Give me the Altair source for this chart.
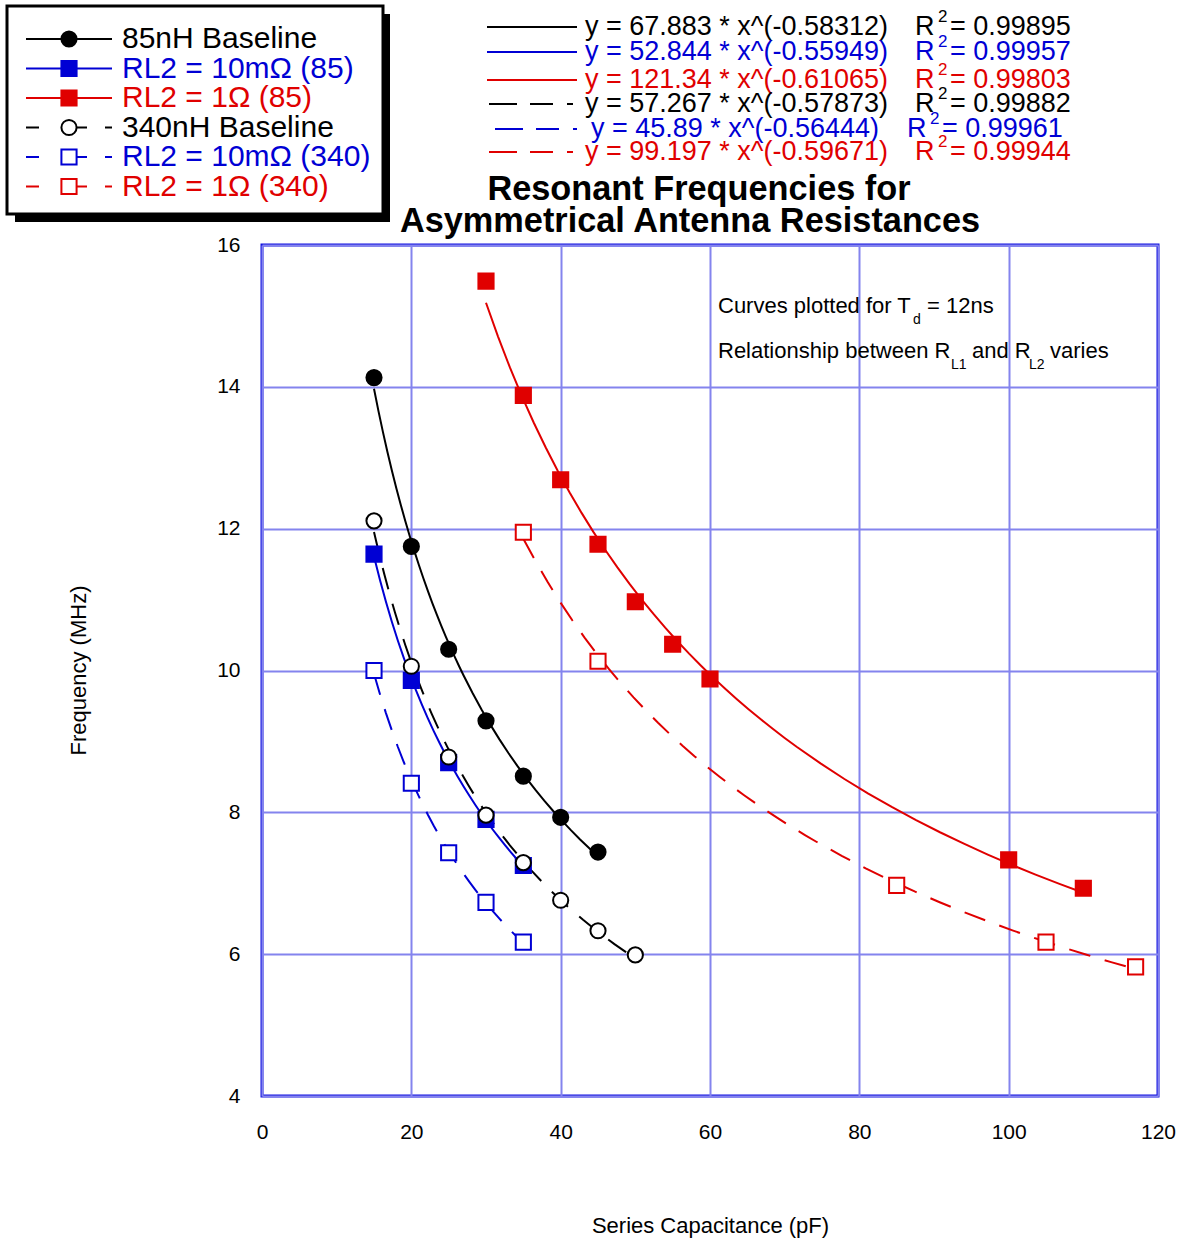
import altair as alt
import pandas as pd

# ---------------- data ----------------
series = ["85nH Baseline", "RL2 = 10mΩ (85)", "RL2 = 1Ω (85)",
          "340nH Baseline", "RL2 = 10mΩ (340)", "RL2 = 1Ω (340)"]

cap_85nh = [15, 20, 25, 30, 35, 40, 45]
freq_85nh = [14.13, 11.75, 10.30, 9.29, 8.51, 7.93, 7.44]
cap_b85 = [15, 20, 25, 30, 35]
freq_b85 = [11.64, 9.86, 8.70, 7.90, 7.25]
cap_r85 = [30, 35, 40, 45, 50, 55, 60, 100, 110]
freq_r85 = [15.49, 13.88, 12.69, 11.78, 10.97, 10.37, 9.88, 7.33, 6.93]
cap_340nh = [15, 20, 25, 30, 35, 40, 45, 50]
freq_340nh = [12.11, 10.06, 8.78, 7.96, 7.29, 6.76, 6.33, 5.99]
cap_b340 = [15, 20, 25, 30, 35]
freq_b340 = [10.00, 8.41, 7.43, 6.73, 6.17]
cap_r340 = [35, 45, 85, 105, 117]
freq_r340 = [11.95, 10.13, 6.97, 6.17, 5.82]

fit_a = ["67.883", "52.844", "121.34", "57.267", "45.89", "99.197"]
fit_b = ["-0.58312", "-0.55949", "-0.61065", "-0.57873", "-0.56444", "-0.59671"]
fit_r2 = ["0.99895", "0.99957", "0.99803", "0.99882", "0.99961", "0.99944"]

x_ticks = [0, 20, 40, 60, 80, 100, 120]
y_ticks = [4, 6, 8, 10, 12, 14, 16]

# ---------------- styles ----------------
BLACK, BLUE, RED = "#000000", "#0000d4", "#e00000"
colors = [BLACK, BLUE, RED, BLACK, BLUE, RED]
fills = [BLACK, BLUE, RED, "#ffffff", "#ffffff", "#ffffff"]
shapes = ["circle", "square", "square", "circle", "square", "square"]
FONT = "Liberation Sans"
L, T = 262, 245  # plot origin on the page

color_scale = alt.Scale(domain=series, range=colors)
fill_scale = alt.Scale(domain=series, range=fills)
shape_scale = alt.Scale(domain=series, range=shapes)

rows = []
for k, (cs, fs) in enumerate([(cap_85nh, freq_85nh), (cap_b85, freq_b85), (cap_r85, freq_r85),
                              (cap_340nh, freq_340nh), (cap_b340, freq_b340), (cap_r340, freq_r340)]):
    for c, f in zip(cs, fs):
        rows.append({"series": series[k], "cap": c, "freq": f, "k": k})
df = pd.DataFrame(rows)

xs = alt.X("cap:Q", scale=alt.Scale(domain=[0, 120], nice=False, zero=False),
           axis=alt.Axis(values=x_ticks, title="Series Capacitance (pF)", labelPadding=25,
                         labelFlush=False,
                         titleX=448, titleY=129, titleBaseline="middle"))
ys = alt.Y("freq:Q", scale=alt.Scale(domain=[4, 16], nice=False, zero=False),
           axis=alt.Axis(values=y_ticks, title="Frequency (MHz)", labelPadding=22,
                         labelFlush=False,
                         titleX=78 - L, titleY=670 - T, titleAngle=270,
                         titleAlign="center", titleBaseline="middle"))
col = alt.Color("series:N", scale=color_scale, legend=None)

base = alt.Chart(df)
solid = base.transform_filter(
    alt.FieldOneOfPredicate(field="series", oneOf=series[:3])
).transform_regression("cap", "freq", method="pow", groupby=["series"]).mark_line(
    strokeWidth=2).encode(x=xs, y=ys, color=col)
dashed = base.transform_filter(
    alt.FieldOneOfPredicate(field="series", oneOf=series[3:])
).transform_regression("cap", "freq", method="pow", groupby=["series"]).mark_line(
    strokeWidth=2, strokeDash=[22, 15]).encode(x=xs, y=ys, color=col)

points = base.mark_point(filled=True, size=230, strokeWidth=2, opacity=1).encode(
    x=xs, y=ys,
    shape=alt.Shape("series:N", scale=shape_scale, legend=None),
    fill=alt.Fill("series:N", scale=fill_scale, legend=None),
    stroke=alt.Stroke("series:N", scale=color_scale, legend=None),
    order=alt.Order("k:Q"),
)

# ---------------- legend box ----------------
one = pd.DataFrame({"a": [0]})
shadow = alt.Chart(one).mark_rect(color="black").encode(
    x=alt.value(15 - L), x2=alt.value(390 - L), y=alt.value(14 - T), y2=alt.value(222 - T))
box = alt.Chart(one).mark_rect(fill="white", stroke="black", strokeWidth=3).encode(
    x=alt.value(7 - L), x2=alt.value(383 - L), y=alt.value(6 - T), y2=alt.value(214 - T))

leg = pd.DataFrame({"series": series, "i": list(range(6))})
leg["ly"] = 39 + 29.5 * leg["i"] - T
leg["lx1"] = 26 - L
leg["lx2"] = 112 - L
leg["mx"] = 69 - L
leg["tx"] = 122 - L
legb = alt.Chart(leg)
leg_solid = legb.transform_filter("datum.i < 3").mark_rule(strokeWidth=2).encode(
    x=alt.X("lx1:Q", scale=None), x2="lx2:Q", y=alt.Y("ly:Q", scale=None), color=col)
leg_dash = legb.transform_filter("datum.i >= 3").mark_rule(
    strokeWidth=2, strokeDash=[13, 22, 26, 18, 7, 60]).encode(
    x=alt.X("lx1:Q", scale=None), x2="lx2:Q", y=alt.Y("ly:Q", scale=None), color=col)
leg_pts = legb.mark_point(filled=True, size=230, strokeWidth=2, opacity=1).encode(
    x=alt.X("mx:Q", scale=None), y=alt.Y("ly:Q", scale=None),
    shape=alt.Shape("series:N", scale=shape_scale, legend=None),
    fill=alt.Fill("series:N", scale=fill_scale, legend=None),
    stroke=alt.Stroke("series:N", scale=color_scale, legend=None))
leg_txt = legb.mark_text(align="left", baseline="middle", font=FONT, fontSize=30).encode(
    x=alt.X("tx:Q", scale=None), y=alt.Y("ly:Q", scale=None), text="series:N", color=col)

# ---------------- fit equations ----------------
eq_y = [27, 52, 80, 104, 129, 152]
eq_shift = [0, 0, 0, 0, 6, 0]
r_shift = [0, 0, 0, 0, -8, 0]
eq = pd.DataFrame({
    "series": series, "i": list(range(6)),
    "eq": [f"y = {a} * x^({b})" for a, b in zip(fit_a, fit_b)],
    "r2": [f"= {r}" for r in fit_r2],
})
eq["ey"] = [y - T for y in eq_y]
eq["sy"] = [y - T - 10 for y in eq_y]
eq["lx1"] = [487 - L + (0 if i < 3 else 2 + s) for i, s in enumerate(eq_shift)]
eq["lx2"] = 577 - L
eq["ex"] = [585 - L + s for s in eq_shift]
eq["rx"] = [915 - L + s for s in r_shift]
eq["sx"] = [938 - L + s for s in r_shift]
eq["qx"] = [950 - L + s for s in r_shift]
eqb = alt.Chart(eq)
eq_solid = eqb.transform_filter("datum.i < 3").mark_rule(strokeWidth=2).encode(
    x=alt.X("lx1:Q", scale=None), x2="lx2:Q", y=alt.Y("ey:Q", scale=None), color=col)
eq_dash = eqb.transform_filter("datum.i >= 3").mark_rule(
    strokeWidth=2, strokeDash=[28, 13, 23, 14, 6, 60]).encode(
    x=alt.X("lx1:Q", scale=None), x2="lx2:Q", y=alt.Y("ey:Q", scale=None), color=col)
eq_txt = eqb.mark_text(align="left", baseline="middle", font=FONT, fontSize=27).encode(
    x=alt.X("ex:Q", scale=None), y=alt.Y("ey:Q", scale=None), text="eq:N", color=col)
eq_R = eqb.mark_text(align="left", baseline="middle", font=FONT, fontSize=27, text="R").encode(
    x=alt.X("rx:Q", scale=None), y=alt.Y("ey:Q", scale=None), color=col)
eq_sup = eqb.mark_text(align="left", baseline="middle", font=FONT, fontSize=17, text="2").encode(
    x=alt.X("sx:Q", scale=None), y=alt.Y("sy:Q", scale=None), color=col)
eq_r2 = eqb.mark_text(align="left", baseline="middle", font=FONT, fontSize=27).encode(
    x=alt.X("qx:Q", scale=None), y=alt.Y("ey:Q", scale=None), text="r2:N", color=col)


def label(txt, x, y, size=22, weight="normal", align="left"):
    return alt.Chart(one).mark_text(text=txt, align=align, baseline="middle", font=FONT,
                                    fontSize=size, fontWeight=weight, color="black").encode(
        x=alt.value(x - L), y=alt.value(y - T))


title1 = label("Resonant Frequencies for", 699, 190, 34.3, "bold", "center")
title2 = label("Asymmetrical Antenna Resistances", 690, 222, 34.3, "bold", "center")
notes = [
    label("Curves plotted for T", 718, 306),
    label("d", 913, 320, 14),
    label("= 12ns", 927, 306),
    label("Relationship between R", 718, 351),
    label("L1", 951, 365, 14),
    label("and R", 972, 351),
    label("L2", 1029, 365, 14),
    label("varies", 1050, 351),
]

chart = alt.layer(
    solid, dashed, points,
    shadow, box, leg_solid, leg_dash, leg_pts, leg_txt,
    eq_solid, eq_dash, eq_txt, eq_R, eq_sup, eq_r2,
    title1, title2, *notes,
).properties(
    width=896, height=851,
    autosize=alt.AutoSizeParams(type="none"),
    padding={"left": L, "top": T, "right": 24, "bottom": 145},
    background="white",
).configure_view(
    stroke="#1010e0", strokeWidth=3,
).configure_axis(
    labelFont=FONT, labelFontSize=21, labelColor="black",
    titleFont=FONT, titleFontSize=22, titleFontWeight="normal", titleColor="black",
    ticks=False, domain=False, grid=True, gridColor="#8484ee", gridWidth=2, gridOpacity=1,
)

chart.save("out.html", embed_options={"renderer": "svg", "actions": False})
